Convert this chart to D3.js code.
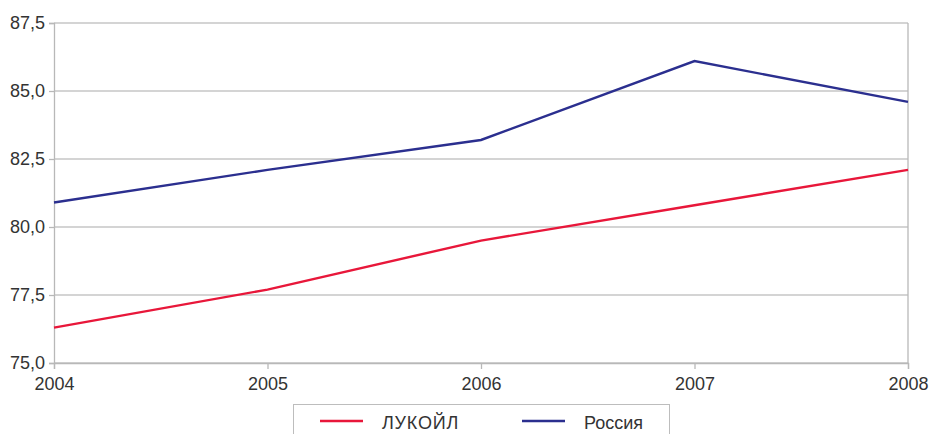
<!DOCTYPE html>
<html><head><meta charset="utf-8">
<script src="https://cdn.jsdelivr.net/npm/d3@7"></script>
<style>body{margin:0;background:#fff}svg{display:block}text{font-family:"Liberation Sans",Arial,sans-serif;fill:#333}</style>
</head><body><svg id="c" width="930" height="434"></svg>
<script>
const years = [2004, 2005, 2006, 2007, 2008];
const lukoil = [76.3, 77.7, 79.5, 80.8, 82.1];
const russia = [80.9, 82.1, 83.2, 86.1, 84.6];
const yTicks = [75, 77.5, 80, 82.5, 85, 87.5];
const seriesNames = ["ЛУКОЙЛ", "Россия"];
const colors = ["#e8173a", "#2b2f8f"];

const svg = d3.select("#c");
const L = 54, R = 908, T = 23, B = 363;
const x = d3.scaleLinear().domain([2004, 2008]).range([L, R]);
const y = d3.scaleLinear().domain([75, 87.5]).range([B, T]);
const fmt = v => v.toFixed(1).replace(".", ",");

svg.append("g").selectAll("line").data(yTicks).join("line")
  .attr("x1", L).attr("x2", R).attr("y1", d => y(d)).attr("y2", d => y(d))
  .attr("stroke", "#c6c6c6").attr("stroke-width", 1.3);
svg.append("line").attr("x1", R).attr("x2", R).attr("y1", T).attr("y2", B)
  .attr("stroke", "#b8b8b8").attr("stroke-width", 1.3);

const yAxis = svg.append("g").attr("transform", `translate(${L},0)`)
  .call(d3.axisLeft(y).tickValues(yTicks).tickFormat(fmt).tickSize(5).tickPadding(4));
const xAxis = svg.append("g").attr("transform", `translate(0,${B})`)
  .call(d3.axisBottom(x).tickValues(years).tickFormat(d3.format("d")).tickSize(6).tickPadding(8));
[yAxis, xAxis].forEach(a => {
  a.selectAll("path,line").attr("stroke", "#b8b8b8").attr("stroke-width", 1.3);
  a.selectAll("text").attr("font-size", 18).attr("fill", "#333")
    .style("font-family", '"Liberation Sans",Arial,sans-serif');
});

const line = d3.line().x((d, i) => x(years[i])).y(d => y(d));
[lukoil, russia].forEach((s, k) => {
  svg.append("path").datum(s).attr("d", line).attr("fill", "none")
    .attr("stroke", colors[k]).attr("stroke-width", 2.4);
});

const lg = svg.append("g");
lg.append("rect").attr("x", 293.5).attr("y", 404.5).attr("width", 376).attr("height", 40)
  .attr("fill", "#fff").attr("stroke", "#bdbdbd").attr("stroke-width", 1);
const lx = [320, 522];
seriesNames.forEach((n, k) => {
  lg.append("line").attr("x1", lx[k]).attr("x2", lx[k] + 43).attr("y1", 421).attr("y2", 421)
    .attr("stroke", colors[k]).attr("stroke-width", 2.4);
  lg.append("text").attr("x", lx[k] + 62).attr("y", 429).attr("font-size", 18).attr("fill", "#333")
    .attr("letter-spacing", k === 0 ? 0.8 : 0).text(n);
});
</script></body></html>
